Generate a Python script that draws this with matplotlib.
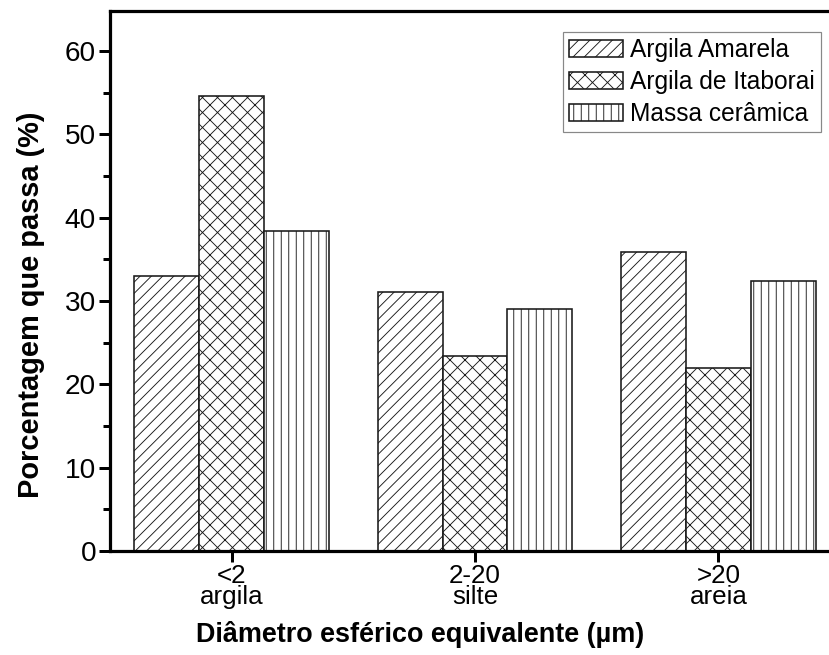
import numpy as np
import matplotlib
matplotlib.use("Agg")
import matplotlib.pyplot as plt

# particle size classes and passing percentage per material
classes = ["<2\nargila", "2-20\nsilte", ">20\nareia"]
series_names = ["Argila Amarela", "Argila de Itaborai", "Massa cerâmica"]
amarela = [33.0, 31.05, 35.9]
itaborai = [54.6, 23.4, 22.0]
massa = [38.4, 29.1, 32.4]

# high dpi so the hatch spacing comes out right; sizes given in pixels
DPI = 270
W, H = 829, 655


def pt(px):
    return px * 72.0 / DPI


plt.rcParams["font.family"] = ["Liberation Sans", "DejaVu Sans"]
plt.rcParams["hatch.linewidth"] = pt(0.9)

fig = plt.figure(figsize=(W / DPI, H / DPI), dpi=DPI)
ax = fig.add_axes([110 / W, 1 - 551 / H, 730 / W, 540 / H])

x = np.arange(len(classes))
width = 0.267
hatches = ["/" * 8, "x" * 6, "|" * 6]
for i, (vals, name) in enumerate(zip([amarela, itaborai, massa], series_names)):
    ax.bar(x + (i - 1) * width, vals, width, label=name, facecolor="white",
           edgecolor="#1a1a1a", linewidth=pt(1.6), hatch=hatches[i])

ax.set_xlim(-0.5, 2.5)
ax.set_ylim(0, 64.8)
ax.set_xticks(x)
ax.set_xticklabels(classes, fontsize=pt(26), linespacing=0.85)
ax.set_yticks(np.arange(0, 61, 10))
ax.set_yticks(np.arange(5, 61, 10), minor=True)
ax.tick_params(axis="y", which="major", direction="out", length=pt(11),
               width=pt(3), labelsize=pt(28), pad=pt(3))
ax.tick_params(axis="y", which="minor", direction="out", length=pt(7),
               width=pt(3))
ax.tick_params(axis="x", which="major", direction="out", length=pt(11),
               width=pt(3), pad=pt(2))
for s in ax.spines.values():
    s.set_linewidth(pt(3.2))

ax.set_xlabel("Diâmetro esférico equivalente (µm)", fontsize=pt(27),
              fontweight="bold")
ax.xaxis.set_label_coords((420 - 110) / 730, -(621 - 551) / 540)
ax.set_ylabel("Porcentagem que passa (%)", fontsize=pt(29), fontweight="bold")
ax.yaxis.set_label_coords(-(110 - 45) / 730, (551 - 305) / 540)

leg = ax.legend(loc="upper right", bbox_to_anchor=(821 / W, 1 - 32 / H),
                bbox_transform=fig.transFigure, fontsize=pt(24.5),
                fancybox=False, framealpha=1, borderaxespad=0,
                borderpad=0.25, handlelength=2.2, handleheight=0.7,
                handletextpad=0.3, labelspacing=0.32)
leg.get_frame().set_edgecolor("#888888")
leg.get_frame().set_linewidth(pt(1.2))

fig.savefig("out.png", dpi=DPI)
